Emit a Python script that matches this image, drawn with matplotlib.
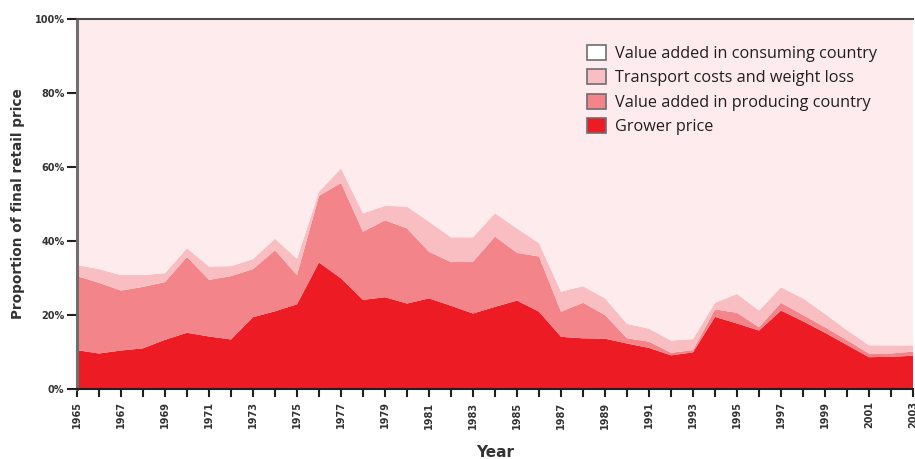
import matplotlib
matplotlib.use("Agg")
from matplotlib import pyplot as plt
from matplotlib.patches import Patch

years = list(range(1965, 2004))

grower = [10.5, 9.6, 10.4, 11.0, 13.3, 15.2, 14.2, 13.4, 19.4, 21.0,
          22.9, 34.2, 29.9, 24.1, 24.8, 23.1, 24.5, 22.5, 20.4, 22.2,
          23.9, 20.9, 14.1, 13.7, 13.6, 12.3, 11.1, 9.1, 9.9, 19.5,
          17.7, 15.8, 21.2, 18.3, 15.2, 11.9, 8.6, 8.7, 9.0]
producing = [20.0, 19.1, 16.2, 16.6, 15.6, 20.5, 15.3, 17.1, 13.0, 16.5,
             7.9, 18.0, 25.8, 18.4, 20.8, 20.3, 12.6, 11.8, 14.0, 19.0,
             12.9, 14.9, 6.8, 9.6, 6.4, 1.4, 1.7, 0.7, 0.6, 2.0,
             2.9, 0.9, 2.1, 1.7, 1.5, 1.3, 1.0, 0.9, 1.1]
transport = [3.0, 3.7, 4.2, 3.2, 2.4, 2.3, 3.6, 2.7, 2.7, 3.1,
             4.4, 1.1, 3.9, 5.0, 3.9, 5.9, 8.1, 6.7, 6.6, 6.3,
             6.6, 3.6, 5.4, 4.5, 4.5, 3.9, 3.5, 3.3, 3.0, 1.8,
             5.1, 4.5, 4.2, 4.5, 3.6, 2.7, 2.2, 2.2, 1.7]
consuming = [66.5, 67.6, 69.2, 69.2, 68.7, 62.0, 66.9, 66.8, 64.9, 59.4,
             64.8, 46.7, 40.4, 52.5, 50.5, 50.7, 54.8, 59.0, 59.0, 52.5,
             56.6, 60.6, 73.7, 72.2, 75.5, 82.4, 83.7, 86.9, 86.5, 76.7,
             74.3, 78.8, 72.5, 75.5, 79.7, 84.1, 88.2, 88.2, 88.2]

labels = ["Grower price", "Value added in producing country",
          "Transport costs and weight loss", "Value added in consuming country"]
colors = ["#ed1c24", "#f3858a", "#f9bec2", "#fdebed"]

fig = plt.figure(figsize=(9.15, 4.59), dpi=100)
ax = fig.add_axes([77/915, 1-389/459, 836/915, 370/459])

ax.stackplot(years, grower, producing, transport, consuming,
             colors=colors, linewidth=0)

ax.set_xlim(1965, 2003)
ax.set_ylim(0, 100)

ax.set_yticks([0, 20, 40, 60, 80, 100])
ax.set_yticklabels(["0%", "20%", "40%", "60%", "80%", "100%"])
ax.set_xticks(years)
ax.set_xticklabels([str(y) if (y - 1965) % 2 == 0 else "" for y in years],
                   rotation=90)
ax.tick_params(axis="y", length=7, width=1.5, color="#231f20", labelsize=7,
               labelcolor="#333333", pad=2)
ax.tick_params(axis="x", length=6, width=1.5, color="#231f20", labelsize=7,
               labelcolor="#333333", pad=3)
for t in ax.get_xticklabels() + ax.get_yticklabels():
    t.set_fontweight("bold")

ax.spines["left"].set_color("#6d6e71")
ax.spines["left"].set_linewidth(2.2)
ax.spines["bottom"].set_color("#231f20")
ax.spines["bottom"].set_linewidth(1.5)
ax.spines["top"].set_color("#4d4d4f")
ax.spines["top"].set_linewidth(1.5)
ax.spines["right"].set_visible(False)

ax.set_ylabel("Proportion of final retail price", fontsize=9.8, fontweight="bold",
              color="#333333", labelpad=7)
ax.set_xlabel("Year", fontsize=11, fontweight="bold", color="#333333",
              labelpad=12)

handles = [Patch(facecolor="#ffffff", edgecolor="#6d6e71", lw=1.2),
           Patch(facecolor=colors[2], edgecolor="#6d6e71", lw=1.2),
           Patch(facecolor=colors[1], edgecolor="#6d6e71", lw=1.2),
           Patch(facecolor=colors[0], edgecolor="#6d6e71", lw=1.2)]
ax.legend(handles, labels[::-1], loc="upper left", bbox_to_anchor=(0.592, 0.97),
          frameon=False, prop={"family": "Open Sans", "size": 11.7},
          handlelength=1.2, handleheight=1.05, handletextpad=0.55,
          labelspacing=0.45, labelcolor="#231f20")

fig.savefig("out.png", dpi=100)
